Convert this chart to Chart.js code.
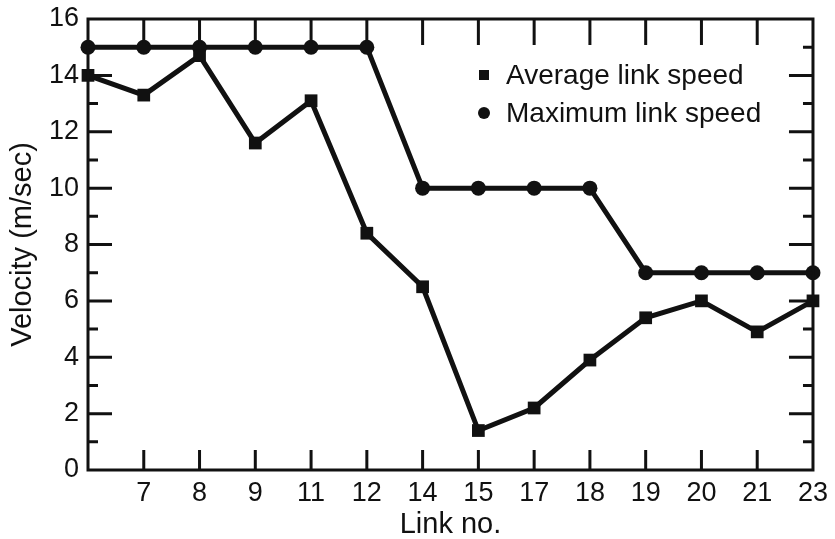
<!DOCTYPE html>
<html>
<head>
<meta charset="utf-8">
<script src="https://cdn.jsdelivr.net/npm/chart.js@4/dist/chart.umd.min.js"></script>
<style>
  html, body { margin: 0; padding: 0; background: #fff; }
  #wrap { width: 835px; height: 539px; }
</style>
</head>
<body>
<div id="wrap"><canvas id="c" width="835" height="539"></canvas></div>
<script>
// Link numbers along the x axis (the first link sits on the axis and is not labelled)
const links = ['', '7', '8', '9', '11', '12', '14', '15', '17', '18', '19', '20', '21', '23'];
// Velocities in m/sec
const averageSpeed = [14.0, 13.3, 14.7, 11.6, 13.1, 8.4, 6.5, 1.4, 2.2, 3.9, 5.4, 6.0, 4.9, 6.0];
const maximumSpeed = [15, 15, 15, 15, 15, 15, 10, 10, 10, 10, 7, 7, 7, 7];
const yTicks = [0, 2, 4, 6, 8, 10, 12, 14, 16];

const INK = '#111';
const FONT = '"Liberation Sans", Arial, Helvetica, sans-serif';

// Box frame with inward tick marks on all four sides
const framePlugin = {
  id: 'frame',
  afterDatasetsDraw(chart) {
    const { ctx, chartArea: a, scales } = chart;
    const x = scales.x, y = scales.y;
    ctx.save();
    ctx.strokeStyle = INK;
    ctx.lineCap = 'butt';
    ctx.lineWidth = 3;
    ctx.strokeRect(a.left, a.top, a.right - a.left, a.bottom - a.top);
    ctx.beginPath();
    for (let i = 1; i < links.length - 1; i++) {
      const px = x.getPixelForValue(i);
      ctx.moveTo(px, a.bottom); ctx.lineTo(px, a.bottom - 20);
      ctx.moveTo(px, a.top); ctx.lineTo(px, a.top + 26);
    }
    for (let v = 1; v < 16; v++) {
      const py = y.getPixelForValue(v);
      const len = v % 2 === 0 ? 24 : 10;
      ctx.moveTo(a.left, py); ctx.lineTo(a.left + len, py);
      ctx.moveTo(a.right, py); ctx.lineTo(a.right - len, py);
    }
    ctx.stroke();
    ctx.restore();
  }
};

// Legend drawn inside the plot area
const legendPlugin = {
  id: 'innerLegend',
  afterDraw(chart) {
    const { ctx } = chart;
    const rows = [
      { ds: chart.data.datasets[0], y: 75 },
      { ds: chart.data.datasets[1], y: 113 }
    ];
    ctx.save();
    ctx.fillStyle = INK;
    ctx.font = '28px ' + FONT;
    ctx.textBaseline = 'middle';
    rows.forEach(r => {
      if (r.ds.pointStyle === 'rect') {
        ctx.fillRect(479, r.y - 5, 10, 10);
      } else {
        ctx.beginPath(); ctx.arc(484, r.y, 6, 0, Math.PI * 2); ctx.fill();
      }
      ctx.fillText(r.ds.label, 506, r.y + 1);
    });
    ctx.restore();
  }
};

new Chart(document.getElementById('c'), {
  type: 'line',
  data: {
    labels: links,
    datasets: [
      {
        label: 'Average link speed',
        data: averageSpeed,
        borderColor: INK,
        backgroundColor: INK,
        borderWidth: 5,
        tension: 0,
        pointStyle: 'rect',
        pointRadius: 9,
        pointBorderWidth: 0,
        clip: false
      },
      {
        label: 'Maximum link speed',
        data: maximumSpeed,
        borderColor: INK,
        backgroundColor: INK,
        borderWidth: 5,
        tension: 0,
        pointStyle: 'circle',
        pointRadius: 7.5,
        pointBorderWidth: 0,
        clip: false
      }
    ]
  },
  options: {
    responsive: false,
    animation: false,
    layout: { padding: { left: 0, right: 12, top: 19, bottom: 0 } },
    plugins: { legend: { display: false }, tooltip: { enabled: false } },
    scales: {
      x: {
        type: 'category',
        offset: false,
        grid: { display: false, drawTicks: false },
        border: { display: false },
        ticks: { color: INK, font: { family: FONT, size: 27 }, padding: 7, maxRotation: 0, autoSkip: false },
        title: { display: true, text: 'Link no.', color: INK, font: { family: FONT, size: 29, lineHeight: 1 }, padding: { top: 0, bottom: 0 } },
        afterFit(s) { s.height = 69; }
      },
      y: {
        min: 0, max: 16,
        afterBuildTicks(s) { s.ticks = yTicks.map(v => ({ value: v })); },
        grid: { display: false, drawTicks: false },
        border: { display: false },
        ticks: { color: INK, font: { family: FONT, size: 27, lineHeight: 1 }, padding: 9 },
        title: { display: true, text: 'Velocity (m/sec)', color: INK, font: { family: FONT, size: 29, lineHeight: 1 }, padding: { top: 8, bottom: 0 } },
        afterFit(s) { s.width = 88; s.paddingTop = 0; s.paddingBottom = 0; }
      }
    }
  },
  plugins: [framePlugin, legendPlugin]
});
</script>
</body>
</html>
